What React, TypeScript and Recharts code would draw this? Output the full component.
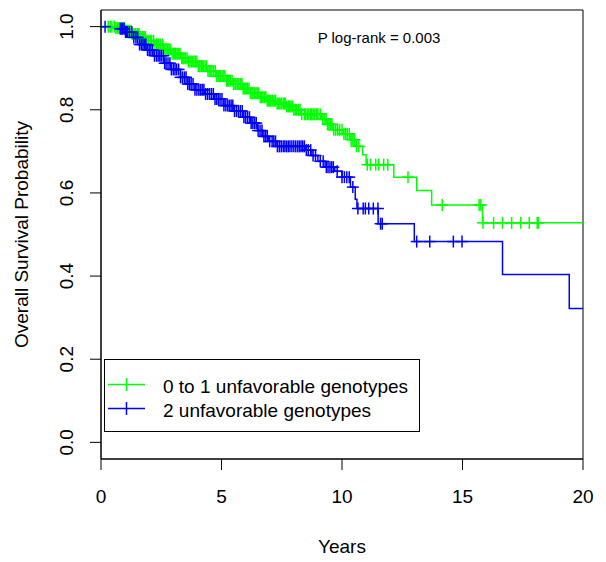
import { ComposedChart, Line, Scatter, XAxis, YAxis, ReferenceArea } from "recharts";

const FONT = '"Liberation Sans", Arial, Helvetica, sans-serif';
const GREEN = "#00ff00";
const BLUE = "#0000ff";

const xTicks = [0, 5, 10, 15, 20];
const yTicks = [0, 0.2, 0.4, 0.6, 0.8, 1.0];
const groupNames = ["0 to 1 unfavorable genotypes", "2 unfavorable genotypes"];
const pText = "P log-rank = 0.003";

// group 1 (green): step times and survival
const greenTimes = [0, 0.6, 1.0, 1.3, 1.6, 1.9, 2.2, 2.6, 2.9, 3.3, 3.6, 4.0, 4.4, 4.8, 5.2, 5.5, 5.9, 6.2, 6.6, 6.9, 7.3, 7.7, 7.95, 8.3, 9.15, 9.35, 9.6, 10.05, 10.35, 10.6, 10.85, 11.0, 12.15, 13.1, 13.72, 15.83, 20];
const greenSurv = [1.0, 0.997, 0.99, 0.982, 0.975, 0.966, 0.957, 0.945, 0.935, 0.924, 0.916, 0.905, 0.893, 0.881, 0.87, 0.862, 0.851, 0.84, 0.83, 0.822, 0.815, 0.808, 0.8, 0.789, 0.778, 0.765, 0.752, 0.742, 0.728, 0.712, 0.692, 0.668, 0.638, 0.606, 0.571, 0.528, 0.528];
const greenCensor = [
  0.3, 0.38, 0.45, 0.55, 0.62, 0.68, 0.74, 0.8, 0.86, 0.93, 0.98, 1.02, 1.07, 1.1, 1.16, 1.24, 1.3, 1.37, 1.42, 1.5,
  1.55, 1.58, 1.64, 1.72, 1.78, 1.84, 1.9, 1.97, 2.05, 2.1, 2.18, 2.24, 2.31, 2.36, 2.4, 2.47, 2.56, 2.6, 2.64, 2.7,
  2.77, 2.82, 2.88, 2.95, 3.02, 3.06, 3.1, 3.16, 3.22, 3.28, 3.35, 3.4, 3.44, 3.5, 3.57, 3.63, 3.69, 3.75, 3.8, 3.86,
  3.92, 3.98, 4.04, 4.1, 4.16, 4.2, 4.25, 4.32, 4.38, 4.44, 4.51, 4.56, 4.6, 4.67, 4.74, 4.8, 4.86, 4.9, 4.95, 5.02,
  5.08, 5.14, 5.21, 5.26, 5.3, 5.37, 5.44, 5.5, 5.56, 5.6, 5.66, 5.72, 5.79, 5.85, 5.9, 5.96, 6.02, 6.08, 6.14, 6.2,
  6.26, 6.31, 6.37, 6.43, 6.49, 6.55, 6.61, 6.66, 6.72, 6.78, 6.84, 6.9, 6.96, 7.0, 7.05, 7.12, 7.18, 7.24, 7.31, 7.36,
  7.42, 7.48, 7.56, 7.6, 7.64, 7.7, 7.77, 7.82, 7.88, 7.94, 8.0, 8.06, 8.12, 8.2, 8.26, 8.33, 8.44, 8.5, 8.57, 8.63,
  8.7, 8.74, 8.8, 8.86, 8.93, 9.0, 9.1, 9.2, 9.28, 9.34, 9.4, 9.46, 9.52, 9.58, 9.66, 9.74, 9.82, 9.9, 10.0, 10.08,
  10.15, 10.22, 10.3, 10.38, 10.45, 10.52, 10.6, 10.7, 11.05, 11.18, 11.4, 11.52, 11.73, 11.9, 12.74, 14.16, 15.69, 15.76, 15.85, 16.29,
  16.66, 17.04, 17.42, 17.77, 18.1, 18.15,
];

// group 2 (blue)
const blueTimes = [0, 0.7, 1.0, 1.3, 1.6, 1.9, 2.2, 2.6, 2.9, 3.3, 3.6, 3.9, 4.3, 4.7, 5.1, 5.5, 5.9, 6.2, 6.5, 6.7, 6.95, 7.3, 8.5, 8.75, 9.0, 9.3, 9.7, 10.0, 10.35, 10.55, 10.62, 11.5, 13.0, 16.66, 19.43, 20];
const blueSurv = [1.0, 0.995, 0.987, 0.974, 0.957, 0.944, 0.93, 0.912, 0.897, 0.878, 0.862, 0.848, 0.838, 0.826, 0.81, 0.797, 0.782, 0.768, 0.75, 0.736, 0.724, 0.712, 0.703, 0.69, 0.676, 0.662, 0.652, 0.638, 0.614, 0.585, 0.5625, 0.526, 0.483, 0.404, 0.322, 0.322];
const blueCensor = [
  0.17, 0.8, 0.85, 0.9, 0.96, 1.02, 1.06, 1.1, 1.18, 1.28, 1.36, 1.45, 1.52, 1.6, 1.67, 1.74, 1.8, 1.86, 1.93, 2.0,
  2.07, 2.14, 2.22, 2.3, 2.37, 2.44, 2.5, 2.58, 2.64, 2.7, 2.78, 2.86, 2.92, 3.0, 3.07, 3.14, 3.22, 3.3, 3.38, 3.46,
  3.53, 3.6, 3.67, 3.74, 3.82, 3.9, 3.98, 4.06, 4.13, 4.2, 4.27, 4.34, 4.42, 4.5, 4.58, 4.66, 4.73, 4.8, 4.87, 4.94,
  5.02, 5.1, 5.18, 5.26, 5.33, 5.4, 5.47, 5.54, 5.62, 5.7, 5.78, 5.86, 5.93, 6.0, 6.08, 6.16, 6.23, 6.3, 6.37, 6.44,
  6.52, 6.6, 6.68, 6.76, 6.83, 6.9, 7.0, 7.1, 7.17, 7.24, 7.32, 7.4, 7.48, 7.56, 7.63, 7.7, 7.77, 7.84, 7.92, 8.0,
  8.08, 8.16, 8.23, 8.3, 8.37, 8.44, 8.52, 8.6, 8.7, 8.8, 8.9, 9.1, 9.22, 9.35, 9.42, 9.5, 9.57, 9.64, 9.8, 10.0,
  10.1, 10.2, 10.3, 10.45, 10.66, 10.88, 10.97, 11.11, 11.3, 11.49, 11.6, 11.67, 13.1, 13.64, 14.62, 14.98,
];

const toSteps = (times: number[], surv: number[]) => times.map((t, i) => ({ t, s: surv[i] }));

// survival value of the step in effect at time t
const survAt = (times: number[], surv: number[], t: number) => {
  let s = surv[0];
  times.forEach((tt, i) => {
    if (tt <= t) s = surv[i];
  });
  return s;
};

const toMarks = (censor: number[], times: number[], surv: number[]) =>
  censor.map((t) => ({ t, s: survAt(times, surv, t) }));

const greenSteps = toSteps(greenTimes, greenSurv);
const blueSteps = toSteps(blueTimes, blueSurv);
const greenMarks = toMarks(greenCensor, greenTimes, greenSurv);
const blueMarks = toMarks(blueCensor, blueTimes, blueSurv);

const plus = (color: string) => (props: any) => {
  const { cx, cy } = props;
  return (
    <g stroke={color} strokeWidth={1.5}>
      <line x1={cx - 6} x2={cx + 6} y1={cy} y2={cy} />
      <line x1={cx} x2={cx} y1={cy - 6} y2={cy + 6} />
    </g>
  );
};

const XTick = (props: any) => (
  <text x={props.x} y={503} textAnchor="middle" fontSize={19} fontFamily={FONT} fill="#000">
    {props.payload.value}
  </text>
);

const YTick = (props: any) => (
  <text
    x={73}
    y={props.y}
    transform={`rotate(-90, 73, ${props.y})`}
    textAnchor="middle"
    fontSize={19}
    fontFamily={FONT}
    fill="#000"
  >
    {Number(props.payload.value).toFixed(1)}
  </text>
);

const XTitle = () => (
  <text x={342} y={553} textAnchor="middle" fontSize={19} fontFamily={FONT} fill="#000">
    Years
  </text>
);

const YTitle = () => (
  <text x={28} y={234.5} transform="rotate(-90, 28, 234.5)" textAnchor="middle" fontSize={19} fontFamily={FONT} fill="#000">
    Overall Survival Probability
  </text>
);

export default function App() {
  return (
    <div style={{ position: "absolute", left: 0, top: 0, width: 606, height: 562, background: "#fff" }}>
      <ComposedChart width={606} height={562} margin={{ top: 10, right: 23, bottom: 0, left: 0 }}>
        <XAxis
          dataKey="t"
          type="number"
          domain={[0, 20]}
          ticks={xTicks}
          allowDataOverflow
          height={103}
          tickSize={11}
          stroke="#000"
          tick={<XTick />}
          label={<XTitle />}
        />
        <YAxis
          dataKey="s"
          type="number"
          domain={[-0.04, 1.04]}
          ticks={yTicks}
          allowDataOverflow
          width={101}
          tickSize={11}
          stroke="#000"
          tick={<YTick />}
          label={<YTitle />}
        />
        <ReferenceArea x1={0} x2={20} y1={-0.04} y2={1.04} fill="none" stroke="#000" strokeWidth={1} ifOverflow="visible" />
        <Line data={greenSteps} dataKey="s" type="stepAfter" stroke={GREEN} strokeWidth={1.5} dot={false} activeDot={false} isAnimationActive={false} />
        <Scatter data={greenMarks} dataKey="s" shape={plus(GREEN)} isAnimationActive={false} />
        <Line data={blueSteps} dataKey="s" type="stepAfter" stroke={BLUE} strokeWidth={1.5} dot={false} activeDot={false} isAnimationActive={false} />
        <Scatter data={blueMarks} dataKey="s" shape={plus(BLUE)} isAnimationActive={false} />
      </ComposedChart>
      <svg width={606} height={562} style={{ position: "absolute", left: 0, top: 0, pointerEvents: "none" }}>
        <text x={379} y={43} textAnchor="middle" fontSize={15} fontFamily={FONT} fill="#000">
          {pText}
        </text>
        <rect x={104.5} y={359.5} width={315} height={72} fill="#fff" stroke="#000" strokeWidth={1} />
        {groupNames.map((name, i) => {
          const cy = 384.5 + i * 24;
          const color = i === 0 ? GREEN : BLUE;
          return (
            <g key={name}>
              <line x1={108} x2={145} y1={cy} y2={cy} stroke={color} strokeWidth={1.5} />
              <line x1={126.5} x2={126.5} y1={cy - 6.5} y2={cy + 6.5} stroke={color} strokeWidth={1.5} />
              <text x={163} y={cy + 8} fontSize={19} fontFamily={FONT} fill="#000">
                {name}
              </text>
            </g>
          );
        })}
      </svg>
    </div>
  );
}
